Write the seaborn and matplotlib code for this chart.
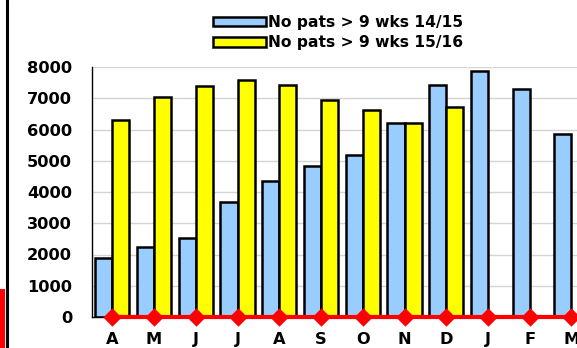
import matplotlib
matplotlib.use("Agg")
import matplotlib.pyplot as plt
from matplotlib.lines import Line2D
from matplotlib.patches import Rectangle
import seaborn as sns
import pandas as pd
import numpy as np

# Monthly counts of patients waiting more than 9 weeks
months = ["Apr", "May", "Jun", "Jul", "Aug", "Sep", "Oct", "Nov", "Dec", "Jan", "Feb", "Mar"]
month_labels = ["A", "M", "J", "J", "A", "S", "O", "N", "D", "J", "F", "M"]
series_names = ["No pats > 9 wks 14/15", "No pats > 9 wks 15/16"]
waits_1415 = [1900, 2230, 2540, 3680, 4360, 4830, 5200, 6200, 7410, 7880, 7300, 5870]
waits_1516 = [6320, 7050, 7390, 7580, 7430, 6960, 6620, 6220, 6730]
target = [0] * 12
bar_colors = ["#99CCFF", "#FFFF00"]

rows = []
for m, v in zip(months, waits_1415):
    rows.append({"month": m, "series": series_names[0], "value": v})
for m, v in zip(months, waits_1516):
    rows.append({"month": m, "series": series_names[1], "value": v})
df = pd.DataFrame(rows)
target_df = pd.DataFrame({"month": months, "value": target})

sns.set_style("white")
plt.rcParams["font.family"] = ["DejaVu Sans"]
plt.rcParams["font.weight"] = "bold"
plt.rcParams["text.color"] = "black"
plt.rcParams["xtick.color"] = "black"
plt.rcParams["ytick.color"] = "black"

W, H = 577, 348
fig = plt.figure(figsize=(W / 100, H / 100), dpi=100)
ax = fig.add_axes([91.5 / W, 31 / H, 500.8 / W, 250 / H])

sns.barplot(data=df, x="month", y="value", hue="series", order=months,
            hue_order=series_names, palette=bar_colors, width=0.82,
            edgecolor="black", linewidth=1.8, saturation=1, ax=ax, zorder=2)

sns.pointplot(data=target_df, x="month", y="value", order=months, color="#FF0000",
              markers="D", markersize=7, linewidth=3, errorbar=None, ax=ax)
for ln in ax.lines:
    ln.set_zorder(5)
    ln.set_clip_on(False)
for coll in ax.collections:
    coll.set_zorder(5)
    coll.set_clip_on(False)

ax.set_xlim(-0.5, 11.5)
ax.set_ylim(0, 8000)
ax.set_yticks(np.arange(0, 8001, 1000))
ax.set_yticklabels([str(v) for v in range(0, 8001, 1000)], fontsize=11.7,
                   fontweight="bold", color="black")
ax.set_xticks(np.arange(12))
ax.set_xticklabels(month_labels, fontsize=11.7, fontweight="bold", color="black")
ax.set_xticks(np.arange(-0.5, 12, 1), minor=True)
ax.tick_params(axis="x", which="major", length=0, pad=11)
ax.tick_params(axis="x", which="minor", length=5, width=1, color="black", direction="out")
ax.tick_params(axis="y", length=6, width=1, color="black", direction="out", pad=8)
ax.set_xlabel("")
ax.set_ylabel("")

ax.yaxis.grid(True, color="#D4D4D4", linewidth=1)
ax.set_axisbelow(True)
for side in ["top", "right"]:
    ax.spines[side].set_visible(False)
ax.spines["left"].set_color("black")
ax.spines["left"].set_linewidth(1)
ax.spines["bottom"].set_color("black")
ax.spines["bottom"].set_linewidth(1)

leg = ax.legend(loc="upper left", bbox_to_anchor=(213 / W, 1 - 15 / H),
                bbox_transform=fig.transFigure, frameon=False,
                prop={"size": 11.2, "weight": "bold"}, handlelength=3.4,
                handleheight=0.55, handletextpad=0.15, labelspacing=0.35,
                borderaxespad=0, borderpad=0)
for h in leg.legend_handles:
    h.set_edgecolor("black")
    h.set_linewidth(1.8)
for t in leg.get_texts():
    t.set_color("black")

# left border strip
fig.add_artist(Line2D([6.5 / W, 6.5 / W], [0, 1], transform=fig.transFigure,
                      color="black", linewidth=2.2))
fig.add_artist(Rectangle((0, 0), 5.4 / W, 59 / H, transform=fig.transFigure,
                         facecolor="#FF0000", edgecolor="none"))

fig.savefig("out.png", dpi=100)
